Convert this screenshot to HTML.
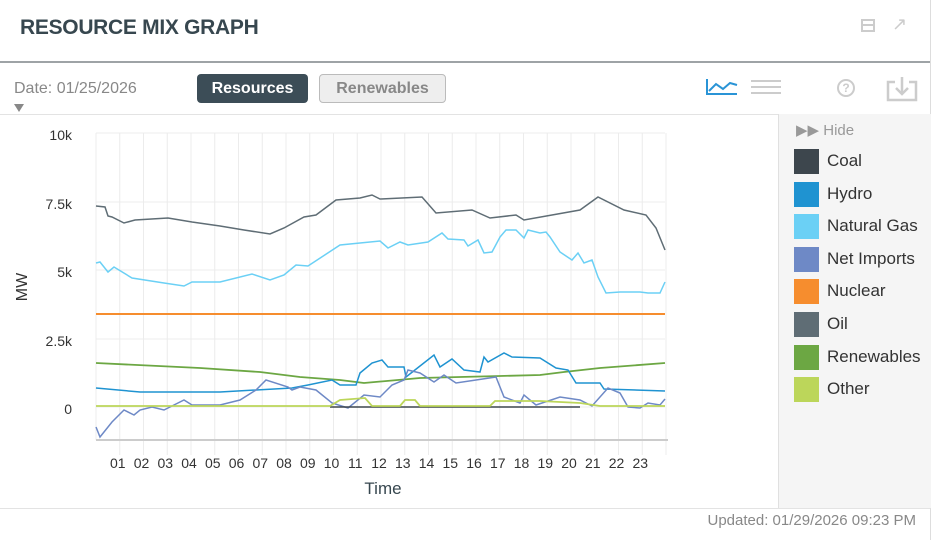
<!DOCTYPE html>
<html><head><meta charset="utf-8"><style>
body{margin:0;width:936px;height:540px;background:#fff;font-family:"Liberation Sans",sans-serif;position:relative;overflow:hidden}
.abs{position:absolute}
</style></head><body>
<div class="abs" style="left:20px;top:16px;font-size:21px;font-weight:bold;color:#37474f;letter-spacing:-0.3px">RESOURCE MIX GRAPH</div>
<div class="abs" style="left:861px;top:19px;width:14px;height:13px;border:2px solid #ccc;box-sizing:border-box"></div>
<div class="abs" style="left:861px;top:24px;width:14px;height:2px;background:#ccc"></div>
<div class="abs" style="left:892px;top:14px;font-size:18px;color:#ccc">↗</div>
<div class="abs" style="left:0;top:61px;width:930px;height:2px;background:#9ea3a6"></div>
<div class="abs" style="left:930px;top:0;width:6px;height:540px;background:#fff;border-left:1px solid #ddd"></div>
<div class="abs" style="left:14px;top:80px;font-size:16px;color:#888">Date: 01/25/2026</div>
<div class="abs" style="left:14px;top:104px;width:0;height:0;border-left:5px solid transparent;border-right:5px solid transparent;border-top:8px solid #888"></div>
<div class="abs" style="left:197px;top:74px;width:111px;height:29px;background:#3c4d57;border-radius:4px;color:#fff;font-weight:bold;font-size:16px;line-height:29px;text-align:center">Resources</div>
<div class="abs" style="left:319px;top:74px;width:125px;height:27px;background:#eee;border:1px solid #bbb;border-radius:4px;color:#888;font-weight:bold;font-size:16px;line-height:27px;text-align:center">Renewables</div>
<svg class="abs" style="left:705px;top:78px" width="34" height="18"><polyline points="2,1 2,16 32,16" fill="none" stroke="#2a94d6" stroke-width="2"/><polyline points="4,13 11,6 18,11 25,5 32,7" fill="none" stroke="#2a94d6" stroke-width="2"/></svg>
<div class="abs" style="left:751px;top:80px;width:30px;height:2px;background:#ccc;box-shadow:0 6px 0 #ccc,0 12px 0 #ccc"></div>
<div class="abs" style="left:837px;top:79px;width:18px;height:18px;border:2px solid #ccc;border-radius:50%;box-sizing:border-box;font-size:12px;color:#ccc;text-align:center;line-height:15px;font-weight:bold">?</div>
<svg class="abs" style="left:886px;top:76px" width="32" height="26"><polyline points="9,6 2,6 2,24 30,24 30,6 23,6" fill="none" stroke="#ccc" stroke-width="2.5"/><line x1="16" y1="1" x2="16" y2="18" stroke="#ccc" stroke-width="2.5"/><polyline points="10,12 16,18 22,12" fill="none" stroke="#ccc" stroke-width="2.5"/></svg>
<div class="abs" style="left:0;top:114px;width:778px;height:1px;background:#e3e3e3"></div>
<div class="abs" style="left:778px;top:114px;width:152px;height:394px;background:#f5f5f5;border-left:1px solid #e0e0e0"></div>
<div class="abs" style="left:796px;top:121px;font-size:15px;color:#999">▶▶ Hide</div>
<div class="abs" style="left:794px;top:145px;font-size:17px;color:#333;line-height:32.6px">
<div><span style="display:inline-block;width:25px;height:25px;background:#3d464d;vertical-align:middle;margin-right:8px"></span>Coal</div>
<div><span style="display:inline-block;width:25px;height:25px;background:#1f93d1;vertical-align:middle;margin-right:8px"></span>Hydro</div>
<div><span style="display:inline-block;width:25px;height:25px;background:#6bd0f5;vertical-align:middle;margin-right:8px"></span>Natural Gas</div>
<div><span style="display:inline-block;width:25px;height:25px;background:#6e89c6;vertical-align:middle;margin-right:8px"></span>Net Imports</div>
<div><span style="display:inline-block;width:25px;height:25px;background:#f68d2e;vertical-align:middle;margin-right:8px"></span>Nuclear</div>
<div><span style="display:inline-block;width:25px;height:25px;background:#5f6d75;vertical-align:middle;margin-right:8px"></span>Oil</div>
<div><span style="display:inline-block;width:25px;height:25px;background:#6ca743;vertical-align:middle;margin-right:8px"></span>Renewables</div>
<div><span style="display:inline-block;width:25px;height:25px;background:#bcd65a;vertical-align:middle;margin-right:8px"></span>Other</div>
</div>
<div class="abs" style="left:0;top:508px;width:930px;height:1px;background:#e3e3e3"></div>
<div class="abs" style="right:20px;top:512px;font-size:15px;color:#888">Updated: 01/29/2026 09:23 PM</div>
<svg class="abs" style="left:0;top:0" width="778" height="508" font-family="Liberation Sans, sans-serif">
<g stroke="#ececec" stroke-width="1">
<line x1="96" y1="133" x2="665" y2="133"/><line x1="96" y1="202" x2="665" y2="202"/><line x1="96" y1="270" x2="665" y2="270"/><line x1="96" y1="339" x2="665" y2="339"/><line x1="96" y1="407" x2="665" y2="407"/>
<line x1="96" y1="133" x2="96" y2="440"/>
</g>
<g id="vg" stroke="#ececec"></g>
<line x1="96" y1="440" x2="668" y2="440" stroke="#ccc" stroke-width="2"/>
<g fill="#333" font-size="14" text-anchor="end">
<text x="72" y="140">10k</text><text x="72" y="209">7.5k</text><text x="72" y="277">5k</text><text x="72" y="346">2.5k</text><text x="72" y="414">0</text>
</g>
<text x="27" y="287" font-size="16" fill="#333" text-anchor="middle" transform="rotate(-90 27 287)">MW</text>
<text x="383" y="494" font-size="17" fill="#37474f" text-anchor="middle">Time</text>
<g id="hl" font-size="14" fill="#333" text-anchor="middle"></g>
<polyline fill="none" stroke="#5f6d75" stroke-width="1.5" points="96,206 105,207 108,216 112,217 124,223 135,220 168,218 192,222 220,226 244,230 270,234 284,228 304,217 316,215 336,200 360,198 372,195 380,199 422,197 436,213 472,210 490,218 516,215 524,220 552,215 580,210 598,197 624,210 646,215 656,228 665,250"/>
<polyline fill="none" stroke="#6bd0f5" stroke-width="1.5" points="96,263 100,262 108,272 114,267 132,278 164,283 184,286 192,282 220,282 252,274 270,280 284,275 296,265 308,266 340,245 360,243 380,241 388,248 400,242 408,245 428,242 442,233 448,239 464,240 468,246 478,240 484,253 492,252 500,237 506,230 516,230 524,238 528,230 540,233 546,232 550,237 560,252 572,260 578,253 584,263 592,260 598,277 606,293 620,292 640,292 648,293 660,293 665,282"/>
<line x1="96" y1="314" x2="665" y2="314" stroke="#f68d2e" stroke-width="2"/>
<polyline fill="none" stroke="#6ca743" stroke-width="1.8" points="96,363 200,368 260,372 300,377 340,380 364,383 420,378 500,376 540,375 564,372 600,368 665,363"/>
<polyline fill="none" stroke="#1f93d1" stroke-width="1.5" points="96,388 140,392 220,392 292,388 308,385 332,380 340,385 356,385 360,373 372,363 382,360 388,367 404,367 406,377 434,355 440,367 452,359 464,370 480,372 484,357 488,362 504,353 512,357 540,358 556,368 568,370 576,383 600,383 604,389 665,391"/>
<polyline fill="none" stroke="#6e89c6" stroke-width="1.5" points="96,427 100,437 112,422 124,410 134,415 140,410 152,407 164,410 184,400 192,405 220,405 240,400 256,390 266,380 288,387 292,390 300,387 316,390 332,403 348,408 364,395 380,397 392,385 404,380 408,370 420,373 434,382 444,375 456,383 476,380 496,377 504,397 520,403 524,395 536,405 560,397 580,400 592,406 608,388 620,393 628,407 640,408 648,403 660,405 665,399"/>
<line x1="330" y1="407" x2="580" y2="407" stroke="#3d464d" stroke-width="1.5"/>
<polyline fill="none" stroke="#bcd65a" stroke-width="1.8" points="96,406 330,406 340,400 365,398 372,406 400,406 405,400 415,400 420,406 490,406 495,401 540,401 580,403 600,406 665,406"/>
</svg>
<script>
var vg=document.getElementById('vg'),hl=document.getElementById('hl'),ns='http://www.w3.org/2000/svg';
for(var h=1;h<=24;h++){var x=96+h*23.75;var l=document.createElementNS(ns,'line');l.setAttribute('x1',x);l.setAttribute('x2',x);l.setAttribute('y1',133);l.setAttribute('y2',455);vg.appendChild(l);
if(h<24){var t=document.createElementNS(ns,'text');t.setAttribute('x',x-2);t.setAttribute('y',468);t.textContent=(h<10?'0':'')+h;hl.appendChild(t);}}
</script>
</body></html>
